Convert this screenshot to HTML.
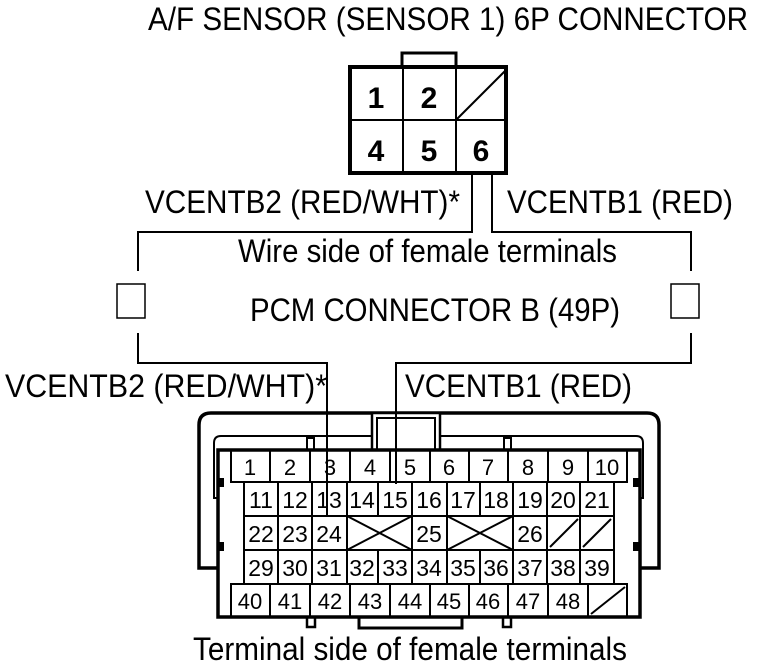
<!DOCTYPE html>
<html><head><meta charset="utf-8"><style>
html,body{margin:0;padding:0;background:#fff;}
svg{display:block;}
text{font-family:"Liberation Sans",Arial,sans-serif;fill:#000;}
</style></head><body>
<svg width="768" height="666" viewBox="0 0 768 666" xmlns="http://www.w3.org/2000/svg">
<text x="148" y="30" font-size="32" textLength="600" lengthAdjust="spacingAndGlyphs">A/F SENSOR (SENSOR 1) 6P CONNECTOR</text>
<text x="145" y="213" font-size="32" textLength="315" lengthAdjust="spacingAndGlyphs">VCENTB2 (RED/WHT)*</text>
<text x="507" y="213" font-size="32" textLength="226" lengthAdjust="spacingAndGlyphs">VCENTB1 (RED)</text>
<text x="238" y="262" font-size="32" textLength="379" lengthAdjust="spacingAndGlyphs">Wire side of female terminals</text>
<text x="250" y="321" font-size="32" textLength="370" lengthAdjust="spacingAndGlyphs">PCM CONNECTOR B (49P)</text>
<text x="5" y="397" font-size="32" textLength="322" lengthAdjust="spacingAndGlyphs">VCENTB2 (RED/WHT)*</text>
<text x="405" y="397" font-size="32" textLength="227" lengthAdjust="spacingAndGlyphs">VCENTB1 (RED)</text>
<text x="193" y="660" font-size="32" textLength="434" lengthAdjust="spacingAndGlyphs">Terminal side of female terminals</text>

<g stroke="#000" fill="none">
<rect x="402" y="53" width="54" height="14" stroke-width="3"/>
<rect x="350" y="67" width="156" height="106" stroke-width="4" fill="#fff"/>
<line x1="403" y1="67" x2="403" y2="173" stroke-width="2"/>
<line x1="456" y1="67" x2="456" y2="173" stroke-width="2"/>
<line x1="350" y1="120" x2="506" y2="120" stroke-width="2"/>
<line x1="456" y1="120" x2="506" y2="70" stroke-width="2"/>
</g>
<g font-size="30" text-anchor="middle" font-weight="bold">
<text x="376" y="108">1</text><text x="429" y="108">2</text>
<text x="376" y="161">4</text><text x="429" y="161">5</text><text x="481" y="161">6</text>
</g>

<g stroke="#000" stroke-width="2" fill="none">
<polyline points="472,173 472,232 138,232 138,271"/>
<polyline points="492,173 492,232 691,232 691,271"/>
<polyline points="138,333 138,363 327,363 327,517"/>
<polyline points="691,333 691,363 396,363 396,484"/>
<rect x="117" y="284" width="28" height="34" stroke-width="1.5"/>
<rect x="671" y="284" width="28" height="34" stroke-width="1.5"/>
</g>

<g stroke="#000" fill="none">
<path d="M218,568 H199 V425 Q199,413 211,413 H647 Q659,413 659,425 V568 H640" stroke-width="3.5"/>
<path d="M218,498 H214 V443 Q214,436 221,436 H636 Q643,436 643,443 V498 H640" stroke-width="2"/>
<rect x="372" y="413" width="68" height="37" stroke-width="2.5" fill="#fff"/>
<rect x="377" y="418" width="58" height="32" stroke-width="2"/>
<rect x="307" y="438" width="7" height="12" stroke-width="2"/>
<rect x="504" y="438" width="7" height="12" stroke-width="2"/>
<rect x="218" y="450" width="422" height="167" stroke-width="3.5" fill="#fff"/>
<rect x="307" y="617" width="8" height="10" stroke-width="2.5"/>
<rect x="503" y="617" width="8" height="10" stroke-width="2.5"/>
<path d="M359,617 V628 H462 V617" stroke-width="3"/>
</g>
<g stroke="#000" stroke-width="2">
<line x1="396" y1="413" x2="396" y2="484"/>
<line x1="327" y1="440" x2="327" y2="517"/>
</g>
<g fill="#000">
<rect x="217" y="478" width="7" height="9"/>
<rect x="217" y="542" width="7" height="9"/>
<rect x="633" y="478" width="7" height="9"/>
<rect x="633" y="542" width="7" height="9"/>
</g>

<g stroke="#000" stroke-width="2" fill="none">
<rect x="231" y="450" width="396" height="32"/>
<rect x="231" y="584" width="396" height="33"/>
<rect x="244" y="482" width="370" height="102"/>
<line x1="244" y1="516" x2="614" y2="516"/>
<line x1="244" y1="550" x2="614" y2="550"/>
<path d="M270,450V482M310,450V482M350,450V482M390,450V482M430,450V482M469,450V482M508,450V482M548,450V482M588,450V482"/>
<path d="M270,584V617M310,584V617M350,584V617M390,584V617M430,584V617M469,584V617M508,584V617M548,584V617M588,584V617"/>
<path d="M278,482V516M312,482V516M347,482V516M378,482V516M412,482V516M447,482V516M480,482V516M513,482V516M547,482V516M580,482V516"/>
<path d="M278,550V584M312,550V584M347,550V584M378,550V584M412,550V584M447,550V584M480,550V584M513,550V584M547,550V584M580,550V584"/>
<path d="M278,516V550M312,516V550M347,516V550M412,516V550M447,516V550M513,516V550M547,516V550M580,516V550"/>
<path d="M347,516L412,550M347,550L412,516M447,516L513,550M447,550L513,516"/>
<path d="M550,547L578,519M583,547L611,519M591,614L625,587"/>
</g>

<g font-size="22" text-anchor="middle">
<text x="250" y="475">1</text><text x="290" y="475">2</text><text x="330" y="475">3</text><text x="370" y="475">4</text><text x="410" y="475">5</text><text x="449" y="475">6</text><text x="488" y="475">7</text><text x="528" y="475">8</text><text x="568" y="475">9</text><text x="607" y="475">10</text>
<text x="250" y="609">40</text><text x="290" y="609">41</text><text x="330" y="609">42</text><text x="370" y="609">43</text><text x="410" y="609">44</text><text x="449" y="609">45</text><text x="488" y="609">46</text><text x="528" y="609">47</text><text x="568" y="609">48</text>
</g>
<g font-size="23" text-anchor="middle">
<text x="261" y="508">11</text><text x="295" y="508">12</text><text x="329" y="508">13</text><text x="362" y="508">14</text><text x="395" y="508">15</text><text x="429" y="508">16</text><text x="463" y="508">17</text><text x="496" y="508">18</text><text x="530" y="508">19</text><text x="563" y="508">20</text><text x="597" y="508">21</text>
<text x="261" y="542">22</text><text x="295" y="542">23</text><text x="329" y="542">24</text><text x="429" y="542">25</text><text x="530" y="542">26</text>
<text x="261" y="576">29</text><text x="295" y="576">30</text><text x="329" y="576">31</text><text x="362" y="576">32</text><text x="395" y="576">33</text><text x="429" y="576">34</text><text x="463" y="576">35</text><text x="496" y="576">36</text><text x="530" y="576">37</text><text x="563" y="576">38</text><text x="597" y="576">39</text>
</g>
</svg>
</body></html>
